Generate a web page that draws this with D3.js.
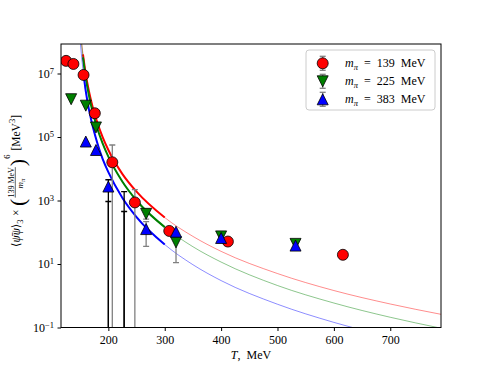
<!DOCTYPE html>
<html>
<head>
<meta charset="utf-8">
<script src="https://cdn.jsdelivr.net/npm/d3@7"></script>
<style>
  html, body { margin: 0; padding: 0; background: #fff; }
  svg { display: block; }
</style>
</head>
<body>
<script>
// measured points, one set per pion mass
const redT = [125, 138, 156, 176, 207, 247, 308, 412, 616];
const redV = [2.5e7, 2.0e7, 9.0e6, 5.6e5, 1.6e4, 870, 110, 51, 19.5];
const redErr = [0, 0, 0, 0, 4.0e4, 1330, 0, 0, 0];

const greenT = [134, 160, 178, 267, 320, 400, 532];
const greenV = [1.55e6, 9.7e5, 2.0e5, 380, 48, 74, 43];
const greenErr = [0, 0, 0, 120, 37, 0, 0];

const blueT = [160, 178, 200, 267, 320, 400, 532];
const blueV = [7.2e4, 3.9e4, 2750, 126, 104, 66, 38];
const blueErr = [0, 0, 0, 90, 0, 0, 0];

// bars without a visible marker (they run off the bottom of the log axis)
const openBarT = [200, 200, 228, 228];
const openBarHi = [4500, 930, 1900, 450];

// fitted curves
const curveT = [150, 152, 155, 160, 165, 170, 175, 180, 190, 200, 225, 250, 300, 350, 400, 500, 600, 700, 790];
const redCurve = [3.0e8, 1.2e8, 4.0e7, 9.4e6, 3.1e6, 1.25e6, 5.8e5, 3.0e5, 9.7e4, 3.9e4, 6.8e3, 1.9e3, 290, 74, 25, 5.0, 1.46, 0.55, 0.26];
const greenCurve = [2.7e8, 1.05e8, 3.2e7, 7.2e6, 2.3e6, 8.8e5, 4.0e5, 1.95e5, 6.2e4, 2.4e4, 3.9e3, 1.0e3, 145, 35, 11.5, 2.1, 0.59, 0.21, 0.095];
const blueCurve = [1.1e8, 4.3e7, 1.3e7, 2.75e6, 8.3e5, 3.2e5, 1.4e5, 6.8e4, 2.0e4, 7.8e3, 1.2e3, 300, 41, 9.5, 3.0, 0.54, 0.145, 0.05, 0.02];
const fitRange = [155, 300];

const xTicks = [200, 300, 400, 500, 600, 700];
const yTicks = [1e-1, 1e1, 1e3, 1e5, 1e7];
const legendLabels = ["139", "225", "383"];

const W = 490, H = 368;
const plotL = 61, plotR = 441, plotT = 44, plotB = 327.5;
const serif = "'Liberation Serif', 'DejaVu Serif', serif";

const svg = d3.select("body").append("svg").attr("width", W).attr("height", H);

const x = d3.scaleLinear().domain([116, 790]).range([plotL, plotR]);
const y = d3.scaleLog().domain([1e-1, 8.5e7]).range([plotB, plotT]);

svg.append("clipPath").attr("id", "plot")
  .append("rect").attr("x", plotL).attr("y", plotT)
  .attr("width", plotR - plotL).attr("height", plotB - plotT);

const plot = svg.append("g").attr("clip-path", "url(#plot)");

// curves: thin pale line everywhere, thick inside the fit range
const line = d3.line()
  .x(d => x(d[0]))
  .y(d => y(d[1]))
  .curve(d3.curveMonotoneX);

const curves = [
  { vals: redCurve, color: "#ff0000" },
  { vals: greenCurve, color: "#008000" },
  { vals: blueCurve, color: "#0000ff" }
];

curves.forEach(c => {
  const pts = curveT.map((t, i) => [t, c.vals[i]]);
  plot.append("path").attr("d", line(pts))
    .attr("fill", "none").attr("stroke", c.color)
    .attr("stroke-opacity", 0.5).attr("stroke-width", 0.9);
  const inside = pts.filter(p => p[0] >= fitRange[0] && p[0] <= fitRange[1]);
  plot.append("path").attr("d", line(inside))
    .attr("fill", "none").attr("stroke", c.color)
    .attr("stroke-width", 2);
});

// error bars
function bar(g, t, lo, hi, color) {
  const px = x(t);
  const yLo = lo > y.domain()[0] ? y(lo) : plotB + 2;
  const yHi = y(hi);
  g.append("line").attr("x1", px).attr("x2", px).attr("y1", yLo).attr("y2", yHi)
    .attr("stroke", color).attr("stroke-width", 1.3);
  g.append("line").attr("x1", px - 3).attr("x2", px + 3).attr("y1", yHi).attr("y2", yHi)
    .attr("stroke", color).attr("stroke-width", 1.3);
  if (lo > y.domain()[0]) {
    g.append("line").attr("x1", px - 3).attr("x2", px + 3).attr("y1", yLo).attr("y2", yLo)
      .attr("stroke", color).attr("stroke-width", 1.3);
  }
}

openBarT.forEach((t, i) => bar(plot, t, 0, openBarHi[i], "#000"));

const series = [
  { T: redT, V: redV, E: redErr, color: "#ff0000", shape: "circle" },
  { T: greenT, V: greenV, E: greenErr, color: "#008000", shape: "down" },
  { T: blueT, V: blueV, E: blueErr, color: "#0000ff", shape: "up" }
];

const ms = 11;
function marker(g, px, py, shape, color) {
  if (shape === "circle") {
    g.append("circle").attr("cx", px).attr("cy", py).attr("r", ms / 2)
      .attr("fill", color).attr("stroke", "#000").attr("stroke-width", 0.8);
  } else {
    const s = ms / 2;
    const pts = shape === "up"
      ? [[0, -s], [-s, s], [s, s]]
      : [[0, s], [-s, -s], [s, -s]];
    g.append("path")
      .attr("d", "M" + pts.map(p => (px + p[0]) + "," + (py + p[1])).join("L") + "Z")
      .attr("fill", color).attr("stroke", "#000").attr("stroke-width", 0.8);
  }
}

series.forEach(s => {
  s.T.forEach((t, i) => {
    if (s.E[i] > 0) bar(plot, t, s.V[i] - s.E[i], s.V[i] + s.E[i], "#808080");
  });
});
series.forEach(s => {
  s.T.forEach((t, i) => marker(plot, x(t), y(s.V[i]), s.shape, s.color));
});

// axes
const xAxis = svg.append("g").attr("transform", `translate(0,${plotB})`)
  .call(d3.axisBottom(x).tickValues(xTicks).tickSize(3.5).tickSizeOuter(0).tickPadding(4));
xAxis.select(".domain").remove();
xAxis.selectAll("text").attr("font-family", serif).attr("font-size", "12px").attr("fill", "#000");

const yAxis = svg.append("g").attr("transform", `translate(${plotL},0)`)
  .call(d3.axisLeft(y).tickValues(yTicks).tickSize(3.5).tickSizeOuter(0).tickPadding(3.5));
yAxis.select(".domain").remove();
yAxis.selectAll(".tick text").each(function (d) {
  const t = d3.select(this);
  const e = Math.round(Math.log10(d));
  t.text(null).attr("font-family", serif).attr("font-size", "12px").attr("fill", "#000");
  t.append("tspan").text("10");
  t.append("tspan").attr("dy", "-0.5em").attr("font-size", "8.5px")
    .text(e < 0 ? "\u2212" + Math.abs(e) : String(e));
});

svg.append("rect").attr("x", plotL).attr("y", plotT)
  .attr("width", plotR - plotL).attr("height", plotB - plotT)
  .attr("fill", "none").attr("stroke", "#000").attr("stroke-width", 1);

// x label
const xl = svg.append("text").attr("x", (plotL + plotR) / 2).attr("y", 359)
  .attr("text-anchor", "middle").attr("font-family", serif).attr("font-size", "12px");
xl.append("tspan").attr("font-style", "italic").text("T");
xl.append("tspan").text(",\u2002MeV");

// y label, laid out piece by piece along the rotated baseline
const yl = svg.append("g").attr("transform", "translate(19.5,247) rotate(-90)")
  .attr("font-family", serif).attr("font-size", "11.5px");
let cx = 0;
function piece(str, opt) {
  opt = opt || {};
  const t = yl.append("text").attr("x", cx + (opt.dx || 0)).attr("y", opt.y || 0).text(str);
  if (opt.size) t.attr("font-size", opt.size);
  if (opt.italic) t.attr("font-style", "italic");
  const w = t.node().getComputedTextLength();
  cx += w + (opt.dx || 0);
  return w;
}
piece("\u27E8");
piece("\u03C8\u0304", { italic: true });
piece("\u03C8", { italic: true });
piece("\u27E9");
piece("3", { size: "8.5px", y: 3 });
piece("\u00D7", { dx: 3.5 });
piece("(", { dx: 3.5, size: "22px", y: 5 });
const fx = cx + 1;
cx = fx;
const wNum = piece("139 MeV", { size: "8px", y: -6 });
const endNum = cx;
cx = fx + wNum / 2 - 6;
piece("m", { size: "9px", italic: true, y: 3 });
piece("\u03C0", { size: "6.5px", italic: true, y: 5 });
yl.append("line").attr("x1", fx).attr("x2", endNum).attr("y1", -4.2).attr("y2", -4.2)
  .attr("stroke", "#000").attr("stroke-width", 0.6);
cx = endNum + 1;
piece(")", { size: "22px", y: 5 });
piece("6", { size: "8.5px", y: -10 });
piece("[MeV", { dx: 4 });
piece("3", { size: "8.5px", y: -5 });
piece("]");

// legend
const lg = svg.append("g");
lg.append("rect").attr("x", 306).attr("y", 50).attr("width", 129).attr("height", 60)
  .attr("rx", 3).attr("fill", "#fff").attr("fill-opacity", 0.8)
  .attr("stroke", "#ccc").attr("stroke-width", 1);
series.forEach((s, i) => {
  const ly = 63.3 + i * 18;
  const lx = 322.7;
  lg.append("line").attr("x1", lx).attr("x2", lx).attr("y1", ly - 7).attr("y2", ly + 7)
    .attr("stroke", "#808080").attr("stroke-width", 1.3);
  [ly - 7, ly + 7].forEach(cy => lg.append("line").attr("x1", lx - 3).attr("x2", lx + 3)
    .attr("y1", cy).attr("y2", cy).attr("stroke", "#808080").attr("stroke-width", 1.3));
  marker(lg, lx, ly, s.shape, s.color);
  const t = lg.append("text").attr("x", 345).attr("y", ly + 4)
    .attr("font-family", serif).attr("font-size", "12px");
  t.append("tspan").attr("font-style", "italic").text("m");
  t.append("tspan").attr("font-style", "italic").attr("font-size", "8.5px").attr("dy", 3).text("\u03C0");
  t.append("tspan").attr("dy", -3).text("\u2002=\u2002" + legendLabels[i] + "\u2002MeV");
});
</script>
</body>
</html>
